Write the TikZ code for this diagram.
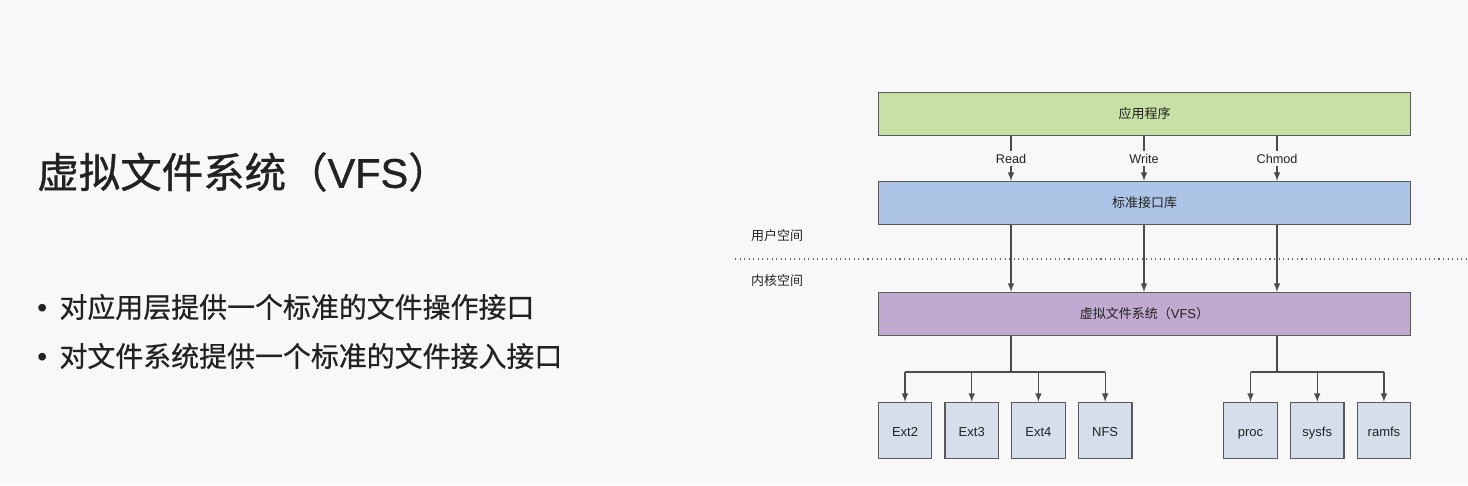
\documentclass[tikz,border=0pt]{standalone}
\usepackage{fontspec}
\setmainfont{Liberation Sans}
\newfontfamily\cjk{Noto Sans CJK SC}
\newfontfamily\cjkheavy{Noto Sans CJK SC}[FakeBold=0.9]
\newfontfamily\cjkmid{Noto Sans CJK SC}[FakeBold=0.6]
\newfontfamily\latinheavy{Liberation Sans}[FakeBold=0.9]
\usepackage{xcolor}
\usetikzlibrary{positioning}
\definecolor{bg}{HTML}{F8F8F8}
\definecolor{appgreen}{HTML}{C6E0A5}
\definecolor{libblue}{HTML}{AEC4E7}
\definecolor{vfspurple}{HTML}{C1AAD0}
\definecolor{fsgrey}{HTML}{D5DEEA}
\definecolor{ink}{HTML}{222222}

\begin{document}
\begin{tikzpicture}[
      x=0.02cm, y=-0.02cm,
      layer-box/.style={rectangle, draw=black!65, line width=0.7pt, minimum width=10.64cm, minimum height=0.86cm, font=\cjk\fontsize{7.4}{9}\selectfont, text=ink},
      fs-box/.style={rectangle, draw=black!65, fill=fsgrey, line width=0.7pt, minimum width=1.07cm, minimum height=1.12cm, text height=1.6ex, text depth=0.3ex, font=\fontsize{7.4}{9}\selectfont, text=ink},
      call-label/.style={fill=bg, inner sep=1.5pt, font=\fontsize{7.2}{9}\selectfont, text=ink},
      space-label/.style={font=\cjk\fontsize{7.4}{9}\selectfont, text=ink},
      point/.style={anchor=west, inner sep=0pt, text=ink, font=\cjkmid\fontsize{15.9}{20}\selectfont},
      link/.style={draw=black!70, line width=0.7pt},
      every edge/.style={link, -latex}
    ]
      \fill[bg] (0,0) rectangle (1468,485);
      \useasboundingbox (0,0) rectangle (1468,485);

      % left side text
      \node[anchor=west, inner sep=0pt, text=ink, font=\cjkheavy\fontsize{23.6}{28}\selectfont] (title) at (37,172) {虚拟文件系统（{\latinheavy VFS}）};
      \node[point] (point-a) at (37,307) {{\normalfont\fontsize{16}{20}\selectfont •}\hspace{7pt}对应用层提供一个标准的文件操作接口};
      \node[point] (point-b) at (37,356) {{\normalfont\fontsize{16}{20}\selectfont •}\hspace{7pt}对文件系统提供一个标准的文件接入接口};

      % layers
      \node[layer-box, fill=appgreen] (app) at (1144.5,114) {应用程序};
      \node[layer-box, fill=libblue] (lib) at (1144.5,203) {标准接口库};
      \node[layer-box, fill=vfspurple] (vfs) at (1144.5,314) {虚拟文件系统（{\normalfont VFS}）};

      \coordinate (col-read) at (1011,0);
      \coordinate (col-write) at (1144,0);
      \coordinate (col-chmod) at (1277,0);

      \foreach \col/\call in {read/Read, write/Write, chmod/Chmod} {
        \draw (app.south -| col-\col) edge node[call-label] {\call} (lib.north -| col-\col);
        \draw (lib.south -| col-\col) edge (vfs.north -| col-\col);
      }

      % user / kernel split
      \coordinate (split-l) at (735,259);
      \coordinate (split-r) at (1468,259);
      \draw[black!60, line width=0.6pt, dotted] (split-l) -- (split-r);
      \node[space-label] (user) at (777,236) {用户空间};
      \node[space-label] (kernel) at (777,281) {内核空间};

      % file systems
      \node[fs-box] (ext2) at (905,430.5) {Ext2};
      \node[fs-box, right=0.24cm of ext2] (ext3) {Ext3};
      \node[fs-box, right=0.24cm of ext3] (ext4) {Ext4};
      \node[fs-box, right=0.24cm of ext4] (nfs) {NFS};
      \node[fs-box] (proc) at (1250.5,430.5) {proc};
      \node[fs-box, right=0.24cm of proc] (sysfs) {sysfs};
      \node[fs-box, right=0.24cm of sysfs] (ramfs) {ramfs};

      \coordinate (bus-l) at (1011,372);
      \coordinate (bus-r) at (1277,372);
      \draw[link] (vfs.south -| bus-l) -- (bus-l);
      \draw[link] (vfs.south -| bus-r) -- (bus-r);
      \draw[link] (bus-l -| ext2) -- (bus-l -| nfs);
      \draw[link] (bus-r -| proc) -- (bus-r -| ramfs);
      \foreach \fs in {ext2, ext3, ext4, nfs}
        \draw (bus-l -| \fs) edge (\fs.north);
      \foreach \fs in {proc, sysfs, ramfs}
        \draw (bus-r -| \fs) edge (\fs.north);
    \end{tikzpicture}
\end{document}
